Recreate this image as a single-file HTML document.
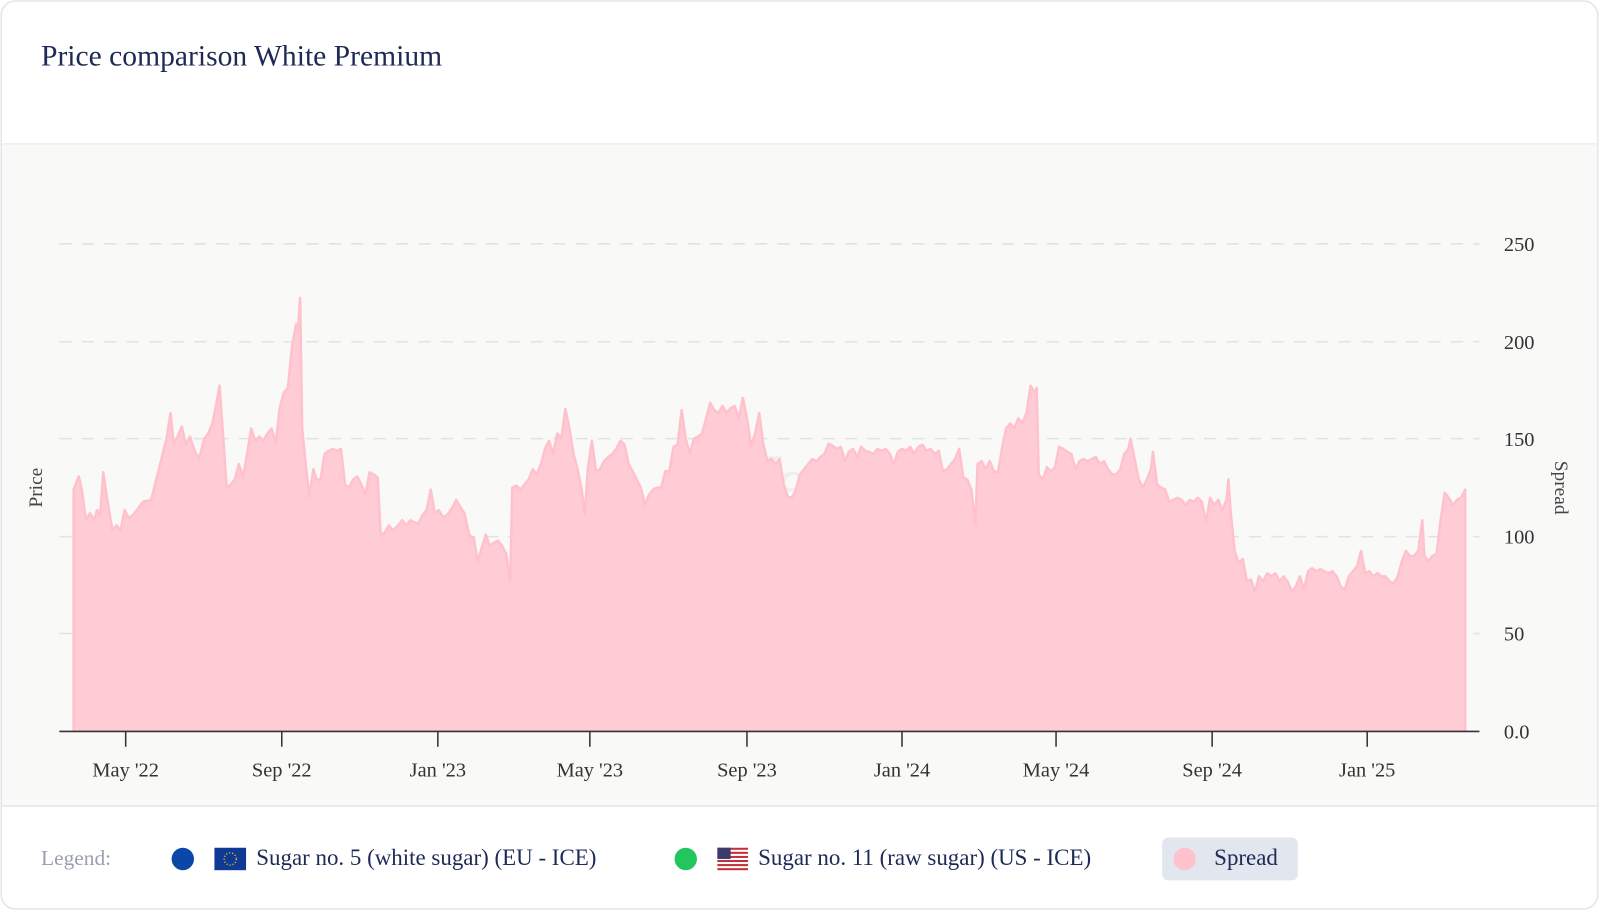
<!DOCTYPE html>
<html><head><meta charset="utf-8"><style>
html,body{margin:0;padding:0;background:#fff;width:1600px;height:911px;overflow:hidden}
svg{display:block}
text{font-family:"Liberation Serif",serif}
</style></head><body>
<svg width="1600" height="911" viewBox="0 0 1568 893" xmlns="http://www.w3.org/2000/svg">
<rect x="1" y="1" width="1565" height="890" rx="14" fill="#fff" stroke="#e3e5ea" stroke-width="1.5"/>
<text x="40" y="64" font-size="29" fill="#1e2a55">Price comparison White Premium</text>
<rect x="2" y="141" width="1563" height="649" fill="#f9f9f8"/>
<line x1="2" y1="141" x2="1565" y2="141" stroke="#e6e7eb"/>
<line x1="2" y1="790" x2="1565" y2="790" stroke="#e3e5ea" stroke-width="1.5"/>
<g stroke="#e2e2e2" stroke-width="1.5" stroke-dasharray="12,10">
<line x1="58" y1="239" x2="1450" y2="239"/><line x1="58" y1="335" x2="1450" y2="335"/>
<line x1="58" y1="430" x2="1450" y2="430"/><line x1="58" y1="526" x2="1450" y2="526"/>
<line x1="58" y1="621" x2="1450" y2="621"/></g>
<text x="805" y="500" font-size="80" fill="#eeeeec" text-anchor="middle" font-family="Liberation Sans">Vespa</text>
<polyline fill="#ffccd5" stroke="#ffc2cd" stroke-width="2.5" stroke-linejoin="round" points="72,717 72,480 77,467 80,480 84,510 88,503 92,510 95,500 98,505 101,463 105,490 110,520 114,515 118,520 122,500 126,508 130,505 134,500 140,492 148,490 153,470 158,450 163,430 167,405 170,435 174,428 178,418 182,436 186,428 191,443 195,450 200,430 204,425 208,415 212,395 215,378 218,420 222,478 226,475 230,470 234,455 238,468 242,445 246,420 250,432 254,428 258,432 262,425 266,420 270,435 274,400 278,385 282,380 286,340 290,318 292,322 294,292 296,420 300,460 303,487 307,460 310,470 314,470 318,445 322,442 326,440 330,442 334,440 338,475 342,478 346,470 350,467 354,475 358,485 362,463 366,465 370,468 373,525 377,522 381,515 385,520 390,515 394,510 398,515 402,510 406,512 410,513 414,505 418,500 422,480 426,503 430,500 434,507 438,505 443,498 447,490 451,497 455,503 460,525 464,527 468,550 472,537 476,524 480,535 484,532 488,530 492,535 496,543 500,570 502,478 506,476 510,480 514,475 518,470 522,460 526,465 530,455 534,440 538,432 542,445 546,425 550,430 554,401 558,420 562,445 566,460 570,480 573,505 576,460 580,432 584,462 588,460 592,452 596,448 600,445 604,440 608,432 612,436 616,455 620,462 624,470 628,478 632,495 636,485 640,480 644,478 648,478 652,462 656,462 660,438 664,436 668,402 672,430 676,445 680,430 684,428 688,425 692,410 696,395 700,402 704,405 708,398 712,405 716,400 720,398 724,410 728,390 732,410 736,437 740,425 744,405 748,435 752,452 756,450 760,455 764,450 768,475 772,487 776,488 780,480 784,465 788,460 792,455 796,450 800,452 804,448 808,445 812,435 816,437 820,440 824,438 828,452 832,443 836,440 840,448 844,438 848,442 852,443 856,445 860,440 864,442 868,440 872,445 876,455 880,443 884,440 888,442 892,438 896,445 900,438 904,436 908,442 912,440 916,445 920,442 924,462 928,460 932,455 936,450 940,440 944,468 948,470 952,480 956,515 958,455 962,452 966,460 970,452 974,462 978,463 982,440 986,420 990,415 994,420 998,410 1002,415 1006,405 1010,378 1014,385 1016,380 1018,465 1022,470 1026,458 1030,462 1034,458 1038,438 1042,440 1046,443 1050,445 1054,460 1058,452 1062,450 1066,452 1070,450 1074,448 1078,455 1082,452 1086,460 1090,465 1094,465 1098,460 1102,445 1106,440 1108,430 1112,450 1116,470 1120,478 1124,470 1128,460 1130,443 1134,475 1138,478 1142,480 1146,492 1150,490 1154,488 1158,490 1162,495 1166,490 1170,492 1174,488 1178,492 1182,512 1186,488 1190,495 1194,490 1198,500 1202,490 1204,470 1206,500 1210,540 1214,552 1218,548 1222,570 1226,568 1230,580 1234,565 1238,570 1242,562 1246,565 1250,562 1254,570 1258,565 1262,570 1266,580 1270,575 1274,565 1278,578 1282,560 1286,557 1290,560 1294,558 1298,560 1302,562 1306,560 1310,565 1314,575 1318,578 1322,565 1326,560 1330,555 1334,540 1338,562 1342,560 1346,565 1350,562 1354,565 1358,565 1362,570 1366,572 1370,565 1374,550 1378,540 1382,545 1386,545 1390,540 1394,510 1396,545 1400,550 1404,545 1408,543 1412,510 1416,483 1420,488 1424,495 1428,490 1432,488 1436,480 1436,717"/>
<line x1="58" y1="717" x2="1450" y2="717" stroke="#333" stroke-width="1.5"/>
<g stroke="#333" stroke-width="1.5">
<line x1="123" y1="717" x2="123" y2="732"/><line x1="276" y1="717" x2="276" y2="732"/><line x1="429" y1="717" x2="429" y2="732"/><line x1="578" y1="717" x2="578" y2="732"/><line x1="732" y1="717" x2="732" y2="732"/><line x1="884" y1="717" x2="884" y2="732"/><line x1="1035" y1="717" x2="1035" y2="732"/><line x1="1188" y1="717" x2="1188" y2="732"/><line x1="1340" y1="717" x2="1340" y2="732"/></g>
<g font-size="20" fill="#333" text-anchor="middle">
<text x="123" y="761">May '22</text><text x="276" y="761">Sep '22</text><text x="429" y="761">Jan '23</text><text x="578" y="761">May '23</text><text x="732" y="761">Sep '23</text><text x="884" y="761">Jan '24</text><text x="1035" y="761">May '24</text><text x="1188" y="761">Sep '24</text><text x="1340" y="761">Jan '25</text></g>
<g font-size="20" fill="#333">
<text x="1474" y="246">250</text><text x="1474" y="342">200</text><text x="1474" y="437">150</text><text x="1474" y="533">100</text><text x="1474" y="628">50</text><text x="1474" y="724">0.0</text></g>
<text transform="translate(41,478) rotate(-90)" font-size="19" fill="#444" text-anchor="middle">Price</text>
<text transform="translate(1524,478) rotate(90)" font-size="19" fill="#444" text-anchor="middle">Spread</text>
<text x="40" y="848" font-size="21" fill="#9a9fb0">Legend:</text>
<circle cx="179" cy="842" r="11" fill="#0a47a9"/>
<rect x="210" y="831" width="31" height="22" fill="#0e3a96"/>
<circle cx="225.5" cy="842" r="6" fill="none" stroke="#f5c518" stroke-width="1.5" stroke-dasharray="1,2"/>
<text x="251" y="848" font-size="22.5" fill="#1e2a55">Sugar no. 5 (white sugar) (EU - ICE)</text>
<circle cx="672" cy="842" r="11" fill="#22c55e"/>
<g><rect x="703" y="831" width="30" height="22" fill="#fff"/>
<rect x="703" y="831" width="30" height="2" fill="#c2303a"/><rect x="703" y="835" width="30" height="2" fill="#c2303a"/><rect x="703" y="839" width="30" height="2" fill="#c2303a"/><rect x="703" y="843" width="30" height="2" fill="#c2303a"/><rect x="703" y="847" width="30" height="2" fill="#c2303a"/><rect x="703" y="851" width="30" height="2" fill="#c2303a"/>
<rect x="703" y="831" width="13" height="11" fill="#3c3b6e"/></g>
<text x="743" y="848" font-size="22.5" fill="#1e2a55">Sugar no. 11 (raw sugar) (US - ICE)</text>
<rect x="1139" y="821" width="133" height="42" rx="6" fill="#e1e6ef"/>
<circle cx="1161" cy="842" r="11" fill="#ffc2cd"/>
<text x="1190" y="848" font-size="22.5" fill="#1e2a55">Spread</text>
</svg>
</body></html>
